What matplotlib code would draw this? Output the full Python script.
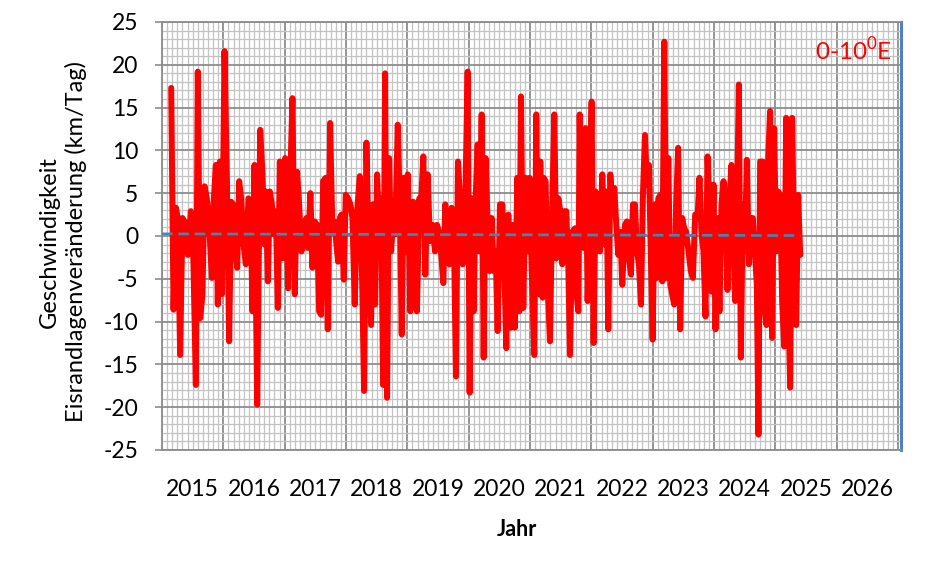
import numpy as np
import matplotlib
matplotlib.use('Agg')
import matplotlib.pyplot as plt
from matplotlib.transforms import blended_transform_factory

plt.rcParams['font.family'] = ['Lato', 'DejaVu Sans']

# ---- data (decimal year, km/Tag) ----
jahr_1 = [2015.150, 2015.188, 2015.226, 2015.258, 2015.296, 2015.334, 2015.367, 2015.421,
          2015.470, 2015.503, 2015.552, 2015.584, 2015.622, 2015.660, 2015.693, 2015.731,
          2015.769, 2015.813, 2015.840, 2015.878, 2015.910, 2015.943, 2015.976, 2016.019,
          2016.057, 2016.095, 2016.128, 2016.160, 2016.193, 2016.226, 2016.258, 2016.291,
          2016.329, 2016.367, 2016.410, 2016.443, 2016.476, 2016.508, 2016.552, 2016.601,
          2016.639, 2016.671, 2016.693, 2016.726, 2016.758, 2016.791, 2016.823, 2016.856,
          2016.889, 2016.921, 2016.965, 2017.008]
wert_1 = [17.3, -8.6, 3.3, 2.1, -13.9, 2.1, 1.7, -2.2,
          2.9, 0.2, -17.4, 19.2, -9.6, -6.8, 5.8, 4.4,
          1.3, -4.9, 3.7, 8.3, -8.0, 8.7, -6.8, 21.6,
          7.2, -12.3, 4.0, 3.7, -1.8, -3.7, 6.4, 4.4,
          -1.0, -3.3, 4.4, 3.7, -8.8, 8.3, -19.7, 12.4,
          7.2, -1.0, 5.2, -5.3, 5.2, 3.7, 0.2, 2.9,
          -8.4, 8.7, -2.6, 9.1]

jahr_2 = [2017.056, 2017.094, 2017.127, 2017.165, 2017.203, 2017.236, 2017.274, 2017.312,
          2017.355, 2017.382, 2017.420, 2017.453, 2017.491, 2017.529, 2017.562, 2017.594,
          2017.627, 2017.670, 2017.703, 2017.741, 2017.779, 2017.812, 2017.844, 2017.871,
          2017.899, 2017.926, 2017.964, 2017.996, 2018.034, 2018.072, 2018.105, 2018.143,
          2018.181, 2018.225, 2018.257, 2018.295, 2018.333, 2018.371, 2018.409, 2018.442,
          2018.475, 2018.507, 2018.540, 2018.573, 2018.605, 2018.638, 2018.670, 2018.703,
          2018.736, 2018.768, 2018.801, 2018.844, 2018.877, 2018.909, 2018.942, 2018.975,
          2019.007, 2019.051, 2019.094, 2019.138]
wert_2 = [-6.1, 7.5, 16.1, -6.8, 7.5, 3.7, -1.8, 1.3,
          2.1, -1.4, 5.0, -3.7, 1.7, 1.3, -8.8, -9.2,
          6.4, 6.8, -10.9, 13.2, 0.5, 1.7, -1.0, -3.0,
          2.1, 2.5, -5.1, 4.8, 4.4, 3.7, 2.1, -8.0,
          2.9, 7.0, -2.6, -18.1, 10.9, -1.8, -10.4, 3.7,
          -8.0, 7.2, 1.3, 4.4, -17.4, 19.0, -18.9, 9.1,
          -1.8, 2.1, 0.2, 13.0, 3.7, -11.5, 6.8, -1.8,
          7.2, -8.8, 4.0, 3.7]

jahr_3 = [2019.157, 2019.196, 2019.223, 2019.261, 2019.293, 2019.331, 2019.369, 2019.413,
          2019.451, 2019.484, 2019.516, 2019.549, 2019.587, 2019.619, 2019.647, 2019.685,
          2019.723, 2019.755, 2019.793, 2019.826, 2019.864, 2019.902, 2019.940, 2019.984,
          2020.016, 2020.049, 2020.081, 2020.114, 2020.147, 2020.179, 2020.212, 2020.245,
          2020.277, 2020.310, 2020.342, 2020.375, 2020.407, 2020.440, 2020.473, 2020.511,
          2020.549, 2020.581, 2020.614, 2020.647, 2020.685, 2020.723, 2020.755, 2020.793,
          2020.826, 2020.853, 2020.891, 2020.929, 2020.962, 2020.994, 2021.027, 2021.071,
          2021.103, 2021.136, 2021.168, 2021.206]
wert_3 = [-8.8, 4.4, 3.7, 9.3, -4.5, 7.2, -0.6, 1.3,
          -1.8, 1.3, 0.5, -1.8, -5.5, 3.7, 0.2, -3.3,
          3.3, 2.5, -16.4, 8.7, 3.7, -3.3, 2.1, 19.2,
          -18.3, 4.4, -8.8, 4.4, 10.7, -1.8, 14.2, -14.2,
          9.1, 1.3, -4.1, 2.1, -4.1, -1.8, -11.1, 3.7,
          3.7, -3.3, -13.1, 2.5, -10.7, 1.3, -10.7, 6.8,
          -8.8, 16.3, -8.4, 6.8, -1.8, 6.8, -3.7, -13.9,
          14.2, -6.8, 8.7, -7.2]

jahr_4 = [2021.223, 2021.255, 2021.288, 2021.326, 2021.364, 2021.397, 2021.429, 2021.462,
          2021.494, 2021.527, 2021.560, 2021.592, 2021.625, 2021.652, 2021.690, 2021.734,
          2021.766, 2021.788, 2021.810, 2021.842, 2021.875, 2021.907, 2021.940, 2021.978,
          2022.005, 2022.038, 2022.070, 2022.103, 2022.141, 2022.179, 2022.212, 2022.250,
          2022.277, 2022.310, 2022.342, 2022.375, 2022.407, 2022.440, 2022.473, 2022.505,
          2022.549, 2022.581, 2022.614, 2022.647, 2022.679, 2022.712, 2022.744, 2022.777,
          2022.810, 2022.842, 2022.875, 2022.907, 2022.940, 2022.973, 2023.000, 2023.032,
          2023.070, 2023.092, 2023.125, 2023.157, 2023.190, 2023.223, 2023.255, 2023.288]
wert_4 = [6.8, 6.4, -5.7, -12.3, 3.7, 14.2, -2.6, 4.4,
          2.9, -3.3, 2.9, 2.9, -3.3, -13.9, 0.5, 0.9,
          -7.2, -8.8, 14.2, -1.0, -1.4, 12.6, -7.6, 5.2,
          15.7, -12.5, 5.2, 2.5, -1.8, 7.2, -1.0, 5.2,
          -10.9, 7.2, 3.7, 5.6, 1.3, -2.2, 0.5, -5.7,
          1.3, 1.7, -2.6, -4.5, 3.7, 3.7, -1.8, -3.3,
          -8.0, 4.8, 11.8, 6.0, 8.3, -2.6, -12.1, 3.7,
          -4.9, 4.4, 4.8, -5.3, 22.7, -4.9, 9.1, -5.7]

jahr_5 = [2023.351, 2023.384, 2023.416, 2023.449, 2023.482, 2023.514, 2023.547, 2023.585,
          2023.623, 2023.656, 2023.694, 2023.732, 2023.764, 2023.797, 2023.829, 2023.862,
          2023.895, 2023.927, 2023.960, 2023.993, 2024.025, 2024.058, 2024.090, 2024.123,
          2024.156, 2024.188, 2024.221, 2024.253, 2024.286, 2024.319, 2024.346, 2024.373,
          2024.406, 2024.438, 2024.471, 2024.503, 2024.536, 2024.569, 2024.601, 2024.634,
          2024.666, 2024.699, 2024.726, 2024.753, 2024.797, 2024.830, 2024.857, 2024.884,
          2024.916, 2024.949, 2024.982, 2025.014, 2025.047, 2025.079, 2025.112, 2025.145,
          2025.177, 2025.210, 2025.243, 2025.275, 2025.308, 2025.341, 2025.373, 2025.406]
wert_5 = [-8.0, 3.7, 10.3, -10.9, 2.1, 0.9, 0.5, -1.8,
          -4.1, -4.9, 2.5, 2.1, 6.8, 0.2, -1.8, -9.4,
          9.3, 3.7, -6.5, 6.0, -10.9, 2.1, -8.8, 3.7,
          6.4, 3.7, -6.3, 4.4, 8.3, -1.8, -7.6, 2.1,
          17.7, -14.2, 3.7, -1.8, 8.9, -3.3, 2.1, 2.1,
          -1.8, -5.7, -23.2, 8.7, 8.7, -8.8, -10.4, 9.1,
          14.6, -11.9, 12.6, -1.8, 5.2, 4.8, -7.6, -12.9,
          13.8, -6.8, -17.7, 13.8, -1.8, -10.4, 4.8, -2.2]

# linear trend line
trend_jahr = [2015.0, 2025.41]
trend_wert = [0.25, 0.05]

jahr = np.array(jahr_1 + jahr_2 + jahr_3 + jahr_4 + jahr_5)
wert = np.array(wert_1 + wert_2 + wert_3 + wert_4 + wert_5)

jahr_labels = list(range(2015, 2027))
y_ticks = list(range(-25, 30, 5))

# ---- figure ----
fig = plt.figure(figsize=(9.49, 5.66), dpi=100)
ax = fig.add_axes([162 / 949, 1 - 450 / 566, (901 - 162) / 949, 428 / 566])
ax.set_xlim(2015, 2027.05)
ax.set_ylim(-25, 25)

ax.set_xticks(np.arange(2015, 2028))
ax.set_xticks(np.arange(2015, 2027.05, 1 / 12), minor=True)
ax.set_yticks(y_ticks)
ax.set_yticks(np.arange(-25, 26, 1), minor=True)
ax.set_yticklabels([str(v) for v in y_ticks])

ax.grid(which='minor', color='#c3c3c3', lw=0.9)
ax.grid(which='major', color='#8c8c8c', lw=1.3)
ax.set_axisbelow(True)

ax.tick_params(axis='x', which='both', length=0, labelbottom=False)
ax.tick_params(axis='y', which='minor', length=0)
ax.tick_params(axis='y', which='major', length=5, width=1.2, color='#8c8c8c',
               pad=12, labelsize=16.5)

for s in ['left', 'top', 'bottom']:
    ax.spines[s].set_color('#8c8c8c')
    ax.spines[s].set_linewidth(1.3)
ax.spines['right'].set_color('#4f81bd')
ax.spines['right'].set_linewidth(2.2)

trans = blended_transform_factory(ax.transData, ax.transAxes)
for j in jahr_labels:
    ax.text(j + 0.5, -0.093, str(j), transform=trans, ha='center', va='center',
            fontsize=16.5)

ax.plot(jahr, wert, color='#ff0000', lw=4.3, solid_joinstyle='round',
        solid_capstyle='round', zorder=3)

ax.plot(trend_jahr, trend_wert, color='#3f8ab4', lw=1.9, ls=(0, (4, 2.2)), zorder=4)

ax.text(0.988, 0.935, r'0-10$^\mathregular{0}$E', transform=ax.transAxes,
        ha='right', va='center', color='#ff0000', fontsize=17.5)

fig.text(63 / 949, 1 - 242 / 566, 'Geschwindigkeit\nEisrandlagenveränderung (km/Tag)',
         rotation=90, ha='center', va='center', fontsize=17, linespacing=1.3)
fig.text(517 / 949, 1 - 530 / 566, 'Jahr', fontweight='bold', fontsize=15.5,
         ha='center', va='center')

fig.savefig('out.png', dpi=100)
